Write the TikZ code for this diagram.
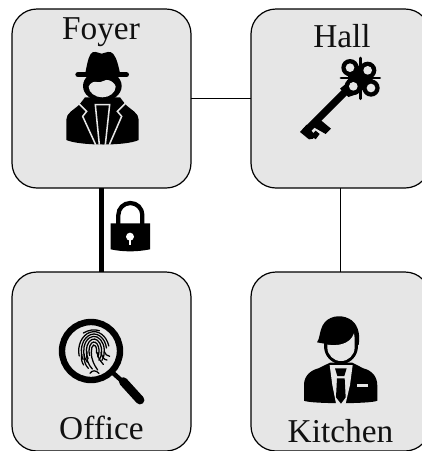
\documentclass[tikz,border=0pt]{standalone}
\usepackage{fontspec}
\setmainfont{Liberation Serif}
\definecolor{boxfill}{HTML}{E6E6E6}
\definecolor{ink}{HTML}{111111}
\tikzset{
  room/.style={draw=black,fill=boxfill,line width=.9pt,rounded corners=18.75pt,minimum size=134.25pt,inner sep=0pt,outer sep=0pt},
  label text/.style={font=\fontsize{25pt}{25pt}\selectfont,text=ink,anchor=base,inner sep=0pt},
  door/.style={line width=.8pt,draw=black},
  locked door/.style={line width=3.8pt,draw=black},
  fine/.style={x=.25pt,y=-.25pt},
  ridge/.style={draw=black,line width=.95pt,line cap=round},
  cut/.style={draw=boxfill,line width=1.15pt,line join=miter}
}
\begin{document}
\begin{tikzpicture}[x=.75pt,y=-.75pt]
\useasboundingbox (0,0) rectangle (422,451);
\node[room] (foyer) at (101.5,98.5) {};
\node[room] (hall) at (340.5,98.5) {};
\node[room] (office) at (101.5,361.5) {};
\node[room] (kitchen) at (340.5,361.5) {};
\draw[door] (foyer.east) -- (hall.west);
\draw[door] (hall.south) -- (kitchen.north);
\draw[locked door] (foyer.south) -- (office.north);
\node[label text] (tf) at (101,39) {Foyer};
\node[label text] (th) at (342,47.7) {Hall};
\node[label text] (to) at (101.5,439) {Office};
\node[label text] (tk) at (340.5,442) {Kitchen};

% spy
\begin{scope}[shift={(60,48)},fine]
\fill (74,85) .. controls (80,55) and (84,30) .. (92,18) .. controls (100,6) and (112,14) .. (125,17) .. controls (138,14) and (150,6) .. (160,18) .. controls (170,30) and (176,55) .. (182,85) -- cycle;
\draw[line width=4pt,line cap=round] (54,80) -- (199,80);
\fill (127,114) ellipse [x radius=58,y radius=46];
\fill (19,215) .. controls (19,195) and (40,187) .. (58,170) -- (75,148) -- (180,148) -- (197,170) .. controls (215,187) and (236,195) .. (236,215) -- (236,276) .. controls (200,294) and (60,294) .. (19,276) -- cycle;
\fill[boxfill] (86,116) .. controls (90,106) and (100,99) .. (110,102) .. controls (125,107) and (135,91) .. (148,97) .. controls (158,101) and (166,109) .. (167,116) .. controls (167,134) and (148,148) .. (127,148) .. controls (106,148) and (86,134) .. (86,116) -- cycle;
\draw[cut] (55,165) -- (80,190) -- (68,205) -- (107,290);
\draw[cut] (197,165) -- (172,190) -- (185,205) -- (148,290);
\draw[cut] (118,290) -- (106,170) -- (149,170) -- (136,290);
\end{scope}

% key
\begin{scope}[shift={(295,52)},fine]
\draw[line width=5.4pt] (30,240) -- (155,115);
\fill (135,110) -- (165,85) -- (190,125) -- (160,135) -- cycle;
\fill (15,240) -- (35,218) -- (62,252) .. controls (58,258) and (50,265) .. (42,262) -- cycle;
\fill (55,205) -- (78,205) -- (108,230) -- (92,246) -- (55,225) -- cycle;
\fill (62,236) -- (74,246) -- (62,262) -- (48,250) -- cycle;
\fill (196,78) circle [radius=38];
\foreach \a/\b in {165/47,218/55,175/103,228/108}{
  \fill (\a,\b) circle [radius=26];
}
\draw[line width=2.2pt,line cap=round] (197,18) -- (197,140);
\draw[line width=2.2pt,line cap=round] (138,78) -- (254,78);
\foreach \a/\b in {165/47,218/55,175/103,228/108}{
  \fill[boxfill] (\a,\b) circle [radius=13];
}
\end{scope}

% magnifier
\begin{scope}[shift={(55,315)},fine]
\draw[line width=4.8pt] (108,108) circle [radius=87];
\draw[line width=3.4pt] (172,172) -- (200,197);
\draw[line width=6.6pt,line cap=round] (205,200) -- (255,255);
\foreach \rx/\ry/\a/\b in {8/18/170/380, 15/27/150/400, 23/36/140/410, 31/44/130/400, 38/51/150/350, 46/58/165/345}{
  \draw[ridge] ({117+\rx*cos(\a)},{108+\ry*sin(\a)}) arc [start angle=\a,end angle=\b,x radius=\rx,y radius=\ry];
}
\draw[ridge] (109,112) .. controls (109,135) and (118,150) .. (128,165);
\draw[ridge] (126,112) .. controls (128,130) and (140,142) .. (145,148);
\draw[ridge] (96,110) .. controls (92,130) and (100,150) .. (112,162);
\draw[ridge] (88,118) .. controls (86,135) and (90,150) .. (100,160);
\draw[ridge] (80,118) .. controls (78,130) and (80,142) .. (86,150);
\draw[ridge] (138,112) .. controls (140,125) and (148,135) .. (156,135);
\draw[ridge] (148,110) .. controls (150,118) and (156,122) .. (164,124);
\draw[ridge] (105,175) .. controls (112,165) and (122,165) .. (132,175);
\draw[ridge] (85,54) .. controls (100,45) and (118,42) .. (133,47);
\end{scope}

% man
\begin{scope}[shift={(295,310)},fine]
\fill (138,108) ellipse [x radius=51,y radius=54];
\fill (66,97) .. controls (75,85) and (73,65) .. (83,46) .. controls (98,18) and (135,12) .. (162,26) .. controls (187,38) and (197,70) .. (191,105) -- (150,100) -- (100,103) -- cycle;
\fill (27,225) .. controls (27,195) and (50,180) .. (70,175) -- (105,158) -- (172,158) -- (205,175) .. controls (232,182) and (247,200) .. (247,228) -- (247,272) .. controls (230,282) and (45,282) .. (27,272) -- cycle;
\fill[boxfill] (97,104) .. controls (125,108) and (165,105) .. (177,70) .. controls (180,85) and (179,100) .. (179,112) .. controls (179,135) and (160,153) .. (138,153) .. controls (116,153) and (97,135) .. (97,112) -- cycle;
\fill[boxfill] (104,165) -- (173,165) -- (165,225) -- (151,285) -- (124,285) -- (112,225) -- cycle;
\fill (120,175) -- (155,175) -- (148,198) -- (127,198) -- cycle;
\fill (126,205) -- (149,205) -- (152,262) -- (138,281) -- (123,262) -- cycle;
\fill[boxfill] (187,222) rectangle (218,232);
\end{scope}

% lock
\begin{scope}[shift={(90,190)},fine]
\draw[line width=3.2pt] (85,102) -- (85,75) arc [start angle=180,end angle=360,radius=36] -- (157,102);
\fill (62,100) -- (180,100) -- (180,178) .. controls (140,186) and (100,186) .. (62,178) -- cycle;
\fill[white] (120,140) circle [radius=12];
\fill[white] (116,142) -- (124,142) -- (124,165) -- (116,165) -- cycle;
\end{scope}
\end{tikzpicture}
\end{document}
